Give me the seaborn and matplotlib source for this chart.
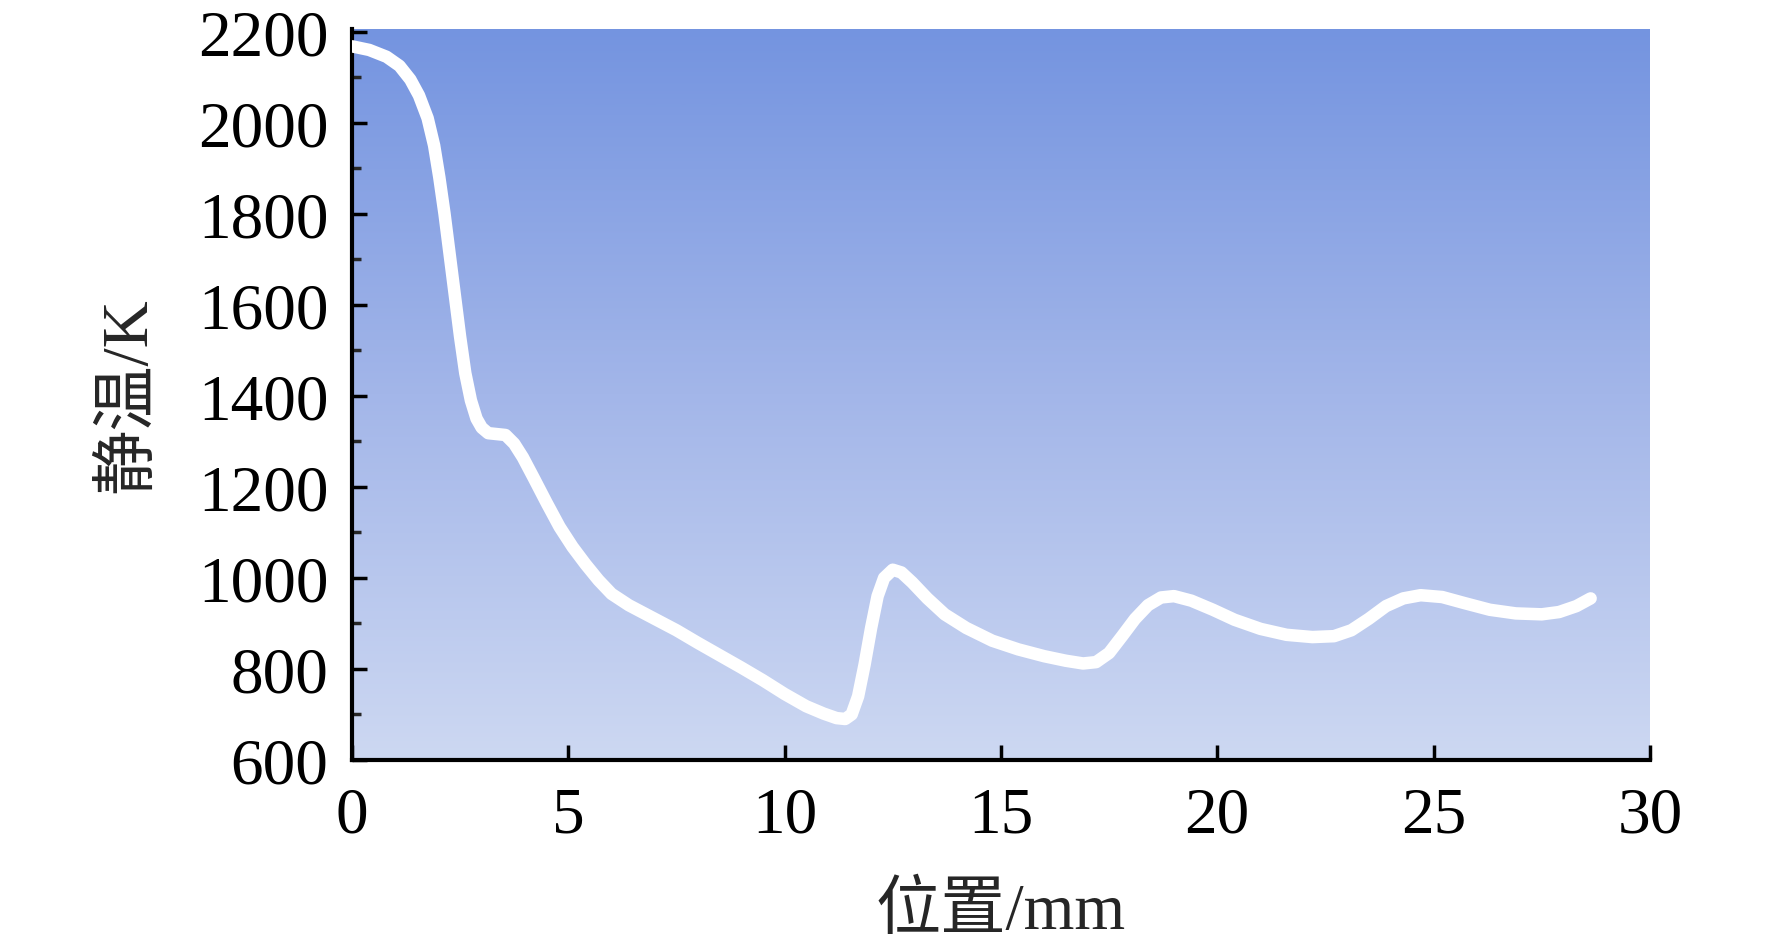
import numpy as np
import pandas as pd
import matplotlib
matplotlib.use('Agg')
import matplotlib.pyplot as plt
from matplotlib.colors import LinearSegmentedColormap
from matplotlib.ticker import MultipleLocator
import seaborn as sns

# position along the path (mm) and static temperature (K)
position_mm = [0.0, 0.4, 0.8, 1.1, 1.35, 1.55, 1.75, 1.9, 2.02, 2.14, 2.26, 2.38,
               2.5, 2.62, 2.75, 2.88, 3.0, 3.15, 3.35, 3.55, 3.75, 3.95, 4.2, 4.5,
               4.8, 5.1, 5.4, 5.7, 6.0, 6.4, 7.0, 7.5, 8.0, 8.5, 9.0, 9.5,
               10.0, 10.5, 10.9, 11.2, 11.4, 11.55, 11.7, 11.85, 12.0, 12.15, 12.3, 12.5,
               12.7, 12.95, 13.3, 13.7, 14.2, 14.8, 15.4, 16.0, 16.5, 16.9, 17.2, 17.5,
               17.8, 18.1, 18.4, 18.7, 19.0, 19.4, 19.9, 20.4, 21.0, 21.6, 22.2, 22.7,
               23.1, 23.5, 23.9, 24.3, 24.7, 25.2, 25.7, 26.3, 26.9, 27.5, 27.9, 28.3,
               28.63]
static_temp_k = [2168, 2160, 2145, 2125, 2095, 2060, 2010, 1950, 1880, 1800, 1710, 1620,
                 1530, 1450, 1390, 1350, 1330, 1318, 1316, 1314, 1295, 1265, 1220, 1165,
                 1112, 1068, 1030, 995, 965, 940, 910, 885, 857, 830, 803, 775,
                 745, 718, 702, 692, 690, 700, 740, 810, 890, 960, 1000, 1018,
                 1012, 990, 955, 920, 890, 862, 843, 828, 818, 812, 815, 835,
                 872, 910, 940, 957, 960, 950, 930, 908, 888, 875, 870, 872,
                 885, 910, 938, 955, 962, 958, 945, 930, 922, 920, 925, 938,
                 955]

x_ticks = [0, 5, 10, 15, 20, 25, 30]
y_ticks = [600, 800, 1000, 1200, 1400, 1600, 1800, 2000, 2200]

df = pd.DataFrame({'position': position_mm, 'temp': static_temp_k})

sns.set_theme(style='ticks')
plt.rcParams['font.family'] = ['Liberation Serif', 'Noto Sans CJK SC']

fig = plt.figure(figsize=(17.72, 9.53), dpi=100)
ax = fig.add_axes([0.1986, 0.2015, 0.7325, 0.7675])

# fluent-style blue gradient background
bg = LinearSegmentedColormap.from_list('bg', ['#cdd8f2', '#a3b6e9', '#7494e0'])
grad = np.linspace(0, 1, 256).reshape(-1, 1)
ax.imshow(grad, cmap=bg, aspect='auto', origin='lower', extent=[0, 1, 0, 1],
          transform=ax.transAxes, zorder=0, interpolation='bicubic')

sns.lineplot(data=df, x='position', y='temp', ax=ax, color='white', lw=9,
             solid_capstyle='round', solid_joinstyle='round', zorder=3)

ax.set_xlim(0, 30)
ax.set_ylim(600, 2207)
ax.set_xticks(x_ticks)
ax.set_yticks(y_ticks)
ax.yaxis.set_minor_locator(MultipleLocator(100))

for s in ['top', 'right']:
    ax.spines[s].set_visible(False)
for s in ['left', 'bottom']:
    ax.spines[s].set_linewidth(3)
    ax.spines[s].set_color('black')

ax.tick_params(which='major', direction='in', length=11, width=2.5, labelsize=47,
               colors='black')
ax.tick_params(which='minor', direction='in', length=6.5, width=2.5)
ax.tick_params(axis='y', which='major', pad=17)
ax.tick_params(axis='x', which='major', pad=19)
ax.set_xlabel('位置/mm', fontsize=47, labelpad=26)
ax.set_ylabel('静温/K', fontsize=47, labelpad=28)

fig.savefig('out.png', dpi=100, facecolor='white')
